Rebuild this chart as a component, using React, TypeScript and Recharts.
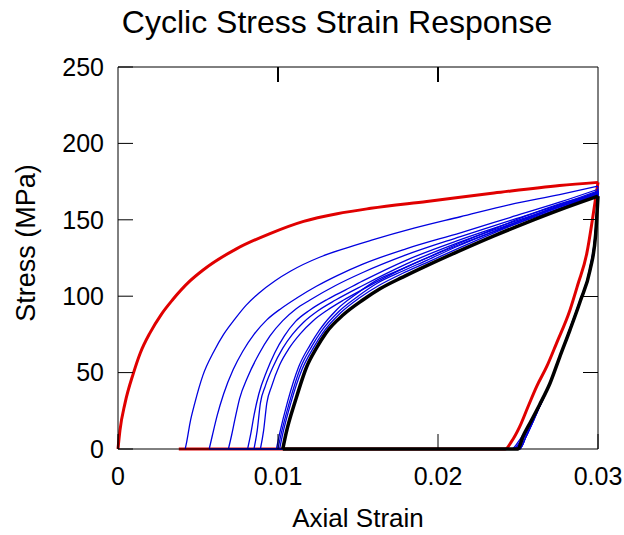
import { ComposedChart, Line, XAxis, YAxis, ReferenceLine } from 'recharts'

type Pt = [number, number] // [axial strain, stress in MPa]

const strainTicks = [0, 0.01, 0.02, 0.03]
const stressTicks = [0, 50, 100, 150, 200, 250]

// first (virgin) loading, then unloading and the zero-stress return
const firstLoad: Pt[] = [
  [0, 0], [0.00012, 12], [0.00044, 30], [0.00096, 49.5], [0.0014, 63], [0.002, 76],
  [0.0027, 88], [0.0034, 97.5], [0.0045, 110], [0.0053, 117], [0.0074, 131],
  [0.0095, 141], [0.0116, 149], [0.0137, 154], [0.0158, 157.5], [0.0193, 162],
  [0.0235, 167.5], [0.0276, 172.5], [0.03, 174.5],
]
const firstUnload: Pt[] = [
  [0.03, 174.5], [0.02965, 150], [0.0293, 128], [0.02875, 108], [0.02825, 91],
  [0.0274, 69], [0.0268, 54], [0.02617, 41], [0.0256, 27], [0.0251, 14.5],
  [0.0246, 5], [0.0242, 0], [0.0038, 0],
]

// repeated cycles
const cyc1Load: Pt[] = [
  [0.0042, 0], [0.0043, 5], [0.0045, 17], [0.0048, 30], [0.0053, 48], [0.006, 64],
  [0.0066, 75], [0.0073, 85], [0.008, 94], [0.0088, 102], [0.0098, 110],
  [0.0108, 116.5], [0.0126, 125.5], [0.0141, 131], [0.0158, 136.5], [0.0185, 144.5],
  [0.0214, 152], [0.0245, 160], [0.0276, 166.5], [0.03, 172],
]
const cyc1Unload: Pt[] = [
  [0.03, 172], [0.02985, 145], [0.0295, 119], [0.0289, 98], [0.02825, 79], [0.0276, 60],
  [0.027, 43], [0.0263, 28], [0.0257, 16], [0.0251, 6], [0.0246, 0], [0.0057, 0],
]
const cyc2Load: Pt[] = [
  [0.0057, 0], [0.0059, 9], [0.0062, 22], [0.0066, 36], [0.0072, 52], [0.0078, 64],
  [0.0085, 75], [0.0093, 84.5], [0.0102, 92], [0.0112, 99], [0.0124, 106.5],
  [0.0137, 113.5], [0.0153, 121], [0.018, 131], [0.0214, 141.5], [0.0245, 151.5],
  [0.0276, 161.5], [0.03, 170],
]
const cyc2Unload: Pt[] = [
  [0.03, 170], [0.02985, 144], [0.0295, 118], [0.0289, 98], [0.02825, 79], [0.0276, 60],
  [0.027, 43], [0.0264, 29], [0.0258, 17], [0.0252, 6], [0.0247, 0], [0.0069, 0],
]
const cyc3Load: Pt[] = [
  [0.0069, 0], [0.0071, 9], [0.0073, 19], [0.0076, 33], [0.0081, 47], [0.0088, 62],
  [0.0095, 74], [0.0103, 84], [0.0111, 91.5], [0.012, 97.5], [0.0136, 107],
  [0.0153, 115.5], [0.018, 127], [0.0214, 139], [0.0245, 149.5], [0.0276, 160], [0.03, 169],
]
const cyc3Unload: Pt[] = [
  [0.03, 169], [0.02985, 143], [0.0295, 118], [0.0289, 97.5], [0.02825, 78.5], [0.0276, 60],
  [0.027, 43], [0.0264, 29], [0.0258, 17], [0.0253, 7], [0.0248, 0], [0.0081, 0],
]
const cyc4Load: Pt[] = [
  [0.0081, 0], [0.0083, 10], [0.0085, 22], [0.0088, 36], [0.0093, 51], [0.0098, 63],
  [0.0104, 74], [0.0111, 83.5], [0.012, 91], [0.0131, 98], [0.0142, 104], [0.0153, 110],
  [0.018, 123.5], [0.0214, 137], [0.0245, 148], [0.0276, 159], [0.03, 168.5],
]
const cyc4Unload: Pt[] = [
  [0.03, 168.5], [0.02985, 142], [0.0295, 117.5], [0.0289, 97.5], [0.02825, 78], [0.0276, 60],
  [0.027, 43], [0.0264, 29], [0.0258, 17], [0.0253, 7], [0.0249, 0], [0.0085, 0],
]
const cyc5Load: Pt[] = [
  [0.0085, 0], [0.0087, 12], [0.0089, 30], [0.0092, 41], [0.0097, 54], [0.0103, 66],
  [0.0109, 75], [0.0116, 83], [0.0125, 90.5], [0.0136, 97.5], [0.0153, 107],
  [0.018, 121], [0.0214, 135.5], [0.0245, 147], [0.0276, 158.5], [0.03, 168],
]
const cyc5Unload: Pt[] = [
  [0.03, 168], [0.02985, 142], [0.0295, 117.5], [0.0289, 97], [0.02825, 78], [0.0276, 60],
  [0.027, 43], [0.0264, 29], [0.0258, 17], [0.0253, 7], [0.0249, 0], [0.0089, 0],
]
const cyc6Load: Pt[] = [
  [0.0089, 0], [0.0091, 12], [0.0093, 30], [0.0096, 41], [0.0101, 55], [0.0107, 66],
  [0.0114, 75.5], [0.0122, 84], [0.0131, 91], [0.0141, 97.5], [0.0153, 104.5],
  [0.018, 119], [0.0214, 134], [0.0245, 146], [0.0276, 157.5], [0.03, 167.5],
]
const cyc6Unload: Pt[] = [
  [0.03, 167.5], [0.02985, 141], [0.0295, 117], [0.0289, 97], [0.02825, 78], [0.0276, 60],
  [0.027, 43], [0.0264, 29], [0.0258, 17], [0.0254, 8], [0.025, 0], [0.0099, 0],
]
const cyc7Load: Pt[] = [
  [0.0099, 0], [0.0101, 10], [0.0106, 31], [0.0113, 54], [0.012, 68], [0.0126, 78],
  [0.0137, 91.5], [0.0149, 101.5], [0.0161, 110], [0.0178, 118], [0.0193, 125],
  [0.0213, 134.5], [0.0235, 144], [0.0255, 152.5], [0.0276, 160.5], [0.03, 167],
]
const cyc7Unload: Pt[] = [
  [0.03, 167], [0.02985, 141], [0.0295, 117], [0.0289, 97], [0.02825, 78], [0.0276, 60],
  [0.027, 43], [0.0264, 29], [0.0259, 17], [0.0255, 8], [0.0251, 0], [0.01, 0],
]
const cyc8Load: Pt[] = [
  [0.01, 0], [0.0102, 10], [0.0107, 30], [0.0114, 53], [0.0121, 67], [0.0127, 77],
  [0.0138, 90], [0.015, 100], [0.0162, 108.5], [0.0178, 116.5], [0.0193, 123.5],
  [0.0213, 133], [0.0235, 142.5], [0.0255, 151], [0.0276, 159.5], [0.03, 166.5],
]
const cyc8Unload: Pt[] = [
  [0.03, 166.5], [0.02985, 141], [0.0295, 117], [0.0289, 97], [0.02825, 78], [0.0276, 60],
  [0.027, 43], [0.0264, 29], [0.0259, 17], [0.0255, 8], [0.0251, 0], [0.0101, 0],
]
const cyc9Load: Pt[] = [
  [0.0101, 0], [0.0103, 10], [0.0108, 30], [0.0115, 52], [0.0122, 66], [0.0128, 76],
  [0.0139, 89], [0.0151, 99], [0.0163, 107], [0.0178, 115], [0.0193, 122],
  [0.0213, 131.5], [0.0235, 141.5], [0.0255, 150], [0.0276, 158.5], [0.03, 166],
]
const cyc9Unload: Pt[] = [
  [0.03, 166], [0.02985, 140.5], [0.0295, 117], [0.0289, 97], [0.02825, 78], [0.0276, 60],
  [0.027, 43], [0.0264, 29], [0.0259, 17], [0.0255, 8], [0.0251, 0], [0.0103, 0],
]

// last cycle
const lastLoad: Pt[] = [
  [0.0103, 0], [0.0105, 10], [0.0111, 32], [0.0118, 54], [0.0124, 66], [0.013, 76],
  [0.0141, 88], [0.0153, 97.5], [0.0164, 105], [0.0178, 112.5], [0.0193, 120],
  [0.0213, 129.5], [0.0235, 139.5], [0.0255, 148], [0.0276, 156.5], [0.03, 165.5],
]
const lastUnload: Pt[] = [
  [0.03, 165.5], [0.02985, 140], [0.0295, 117], [0.0289, 97], [0.02825, 78], [0.0276, 60],
  [0.027, 43], [0.02635, 29], [0.02575, 17], [0.0253, 8], [0.025, 0], [0.0103, 0],
]

const RED = '#e00000'
const BLUE = '#0000e0'
const BLACK = '#000000'

// each branch is drawn as its own path, sorted by strain so the
// monotone curve stays smooth (unloading runs right-to-left in the test)
const byStrain = (pts: Pt[]) => [...pts].sort((a, b) => a[0] - b[0] || a[1] - b[1])
const toRows = (pts: Pt[]) => byStrain(pts).map(([x, y]) => ({ x, y }))

const blueBranches: Pt[][] = [
  cyc1Load, cyc1Unload, cyc2Load, cyc2Unload, cyc3Load, cyc3Unload,
  cyc4Load, cyc4Unload, cyc5Load, cyc5Unload, cyc6Load, cyc6Unload,
  cyc7Load, cyc7Unload, cyc8Load, cyc8Unload, cyc9Load, cyc9Unload,
]

const X_MAX = 0.03
const Y_MAX = 250
const TICK_LEN = 15

// chart box: margins + axis sizes put the plot area at 118..598 x 67..449
const W = 624
const H = 535
const MARGIN = { top: 67, right: 26, bottom: 26, left: 58 }
const Y_AXIS_W = 60
const X_AXIS_H = 60
const PLOT_L = MARGIN.left + Y_AXIS_W
const PLOT_R = W - MARGIN.right
const PLOT_T = MARGIN.top
const PLOT_B = H - MARGIN.bottom - X_AXIS_H
const px = (x: number) => PLOT_L + (x / X_MAX) * (PLOT_R - PLOT_L)
const py = (y: number) => PLOT_B - (y / Y_MAX) * (PLOT_B - PLOT_T)

const FONT = '"Liberation Sans", Arial, Helvetica, sans-serif'
const tickStyle = { fill: '#000', fontSize: 25, fontFamily: FONT }

export default function App() {
  const branch = (pts: Pt[], color: string, width: number, key: string) => (
    <Line
      key={key} data={toRows(pts)} dataKey="y"
      type="monotone" stroke={color} strokeWidth={width} dot={false}
      activeDot={false} isAnimationActive={false}
    />
  )
  return (
    <div style={{ position: 'relative', width: W, height: H, background: '#fff' }}>
      <style>{'body{margin:0}'}</style>
      <ComposedChart width={W} height={H} margin={MARGIN}>
        <XAxis
          dataKey="x" type="number" domain={[0, X_MAX]} ticks={strainTicks}
          tick={tickStyle} tickSize={-TICK_LEN} tickMargin={33} height={X_AXIS_H} interval={0}
          axisLine={{ stroke: '#000' }} tickLine={{ stroke: '#000' }}
        />
        <YAxis
          dataKey="y" type="number" domain={[0, Y_MAX]} ticks={stressTicks}
          tick={tickStyle} tickSize={-TICK_LEN} tickMargin={29} width={Y_AXIS_W} interval={0}
          axisLine={{ stroke: '#000' }} tickLine={{ stroke: '#000' }}
        />
        {/* closing frame: top and right edges */}
        <ReferenceLine y={Y_MAX} stroke="#000" strokeWidth={1} />
        <ReferenceLine x={X_MAX} stroke="#000" strokeWidth={1} />
        {branch(firstLoad, RED, 3, 'red-load')}
        {branch(firstUnload, RED, 3, 'red-unload')}
        {blueBranches.map((pts, i) => branch(pts, BLUE, 1.3, `blue-${i}`))}
        {branch(lastLoad, BLACK, 3.5, 'black-load')}
        {branch(lastUnload, BLACK, 3.5, 'black-unload')}
      </ComposedChart>
      <svg
        width={W} height={H}
        style={{ position: 'absolute', left: 0, top: 0, pointerEvents: 'none', zIndex: 2 }}
        fontFamily={FONT}
      >
        {/* inward ticks mirrored on the top and right edges */}
        <g stroke="#000" strokeWidth={1.2} shapeRendering="crispEdges">
          {strainTicks.slice(1, -1).map(t => (
            <line key={`tt-${t}`} x1={px(t)} x2={px(t)} y1={PLOT_T} y2={PLOT_T + TICK_LEN} />
          ))}
          {stressTicks.slice(1, -1).map(t => (
            <line key={`rt-${t}`} x1={PLOT_R} x2={PLOT_R - TICK_LEN} y1={py(t)} y2={py(t)} />
          ))}
        </g>
        <text x={337} y={33} textAnchor="middle" fontSize={32} fill="#000">
          Cyclic Stress Strain Response
        </text>
        <text x={358} y={527} textAnchor="middle" fontSize={26} fill="#000">
          Axial Strain
        </text>
        <text transform="translate(35 243) rotate(-90)" textAnchor="middle" fontSize={27} fill="#000">
          Stress (MPa)
        </text>
      </svg>
    </div>
  )
}
